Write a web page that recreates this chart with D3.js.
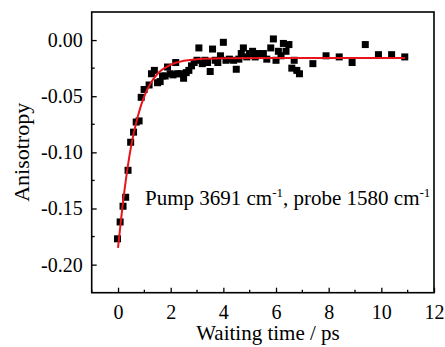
<!DOCTYPE html>
<html><head><meta charset="utf-8">
<script src="https://cdn.jsdelivr.net/npm/d3@7"></script>
<style>body{margin:0;background:#fff}svg{display:block}</style>
</head><body>
<svg id="c" width="445" height="347"></svg>
<script>
const timeData = [-0.02,0.08,0.19,0.29,0.38,0.48,0.59,0.69,0.80,0.88,0.99,1.18,1.27,1.38,1.50,1.60,1.69,1.79,1.88,1.98,2.09,2.19,2.26,2.36,2.49,2.59,2.69,2.79,2.89,3.00,3.07,3.20,3.30,3.40,3.50,3.59,3.69,3.79,3.89,4.00,4.10,4.23,4.39,4.49,4.59,4.68,4.76,4.89,4.99,5.11,5.21,5.33,5.52,5.65,5.80,5.90,6.00,6.09,6.19,6.28,6.38,6.49,6.60,6.69,6.79,6.89,7.40,7.90,8.40,8.89,9.39,9.89,10.39,10.89];
const anisoData = [-0.177,-0.162,-0.148,-0.140,-0.116,-0.091,-0.082,-0.073,-0.072,-0.051,-0.044,-0.040,-0.030,-0.027,-0.038,-0.037,-0.032,-0.032,-0.024,-0.030,-0.031,-0.020,-0.030,-0.030,-0.034,-0.029,-0.027,-0.023,-0.020,-0.018,-0.007,-0.021,-0.018,-0.020,-0.028,-0.008,-0.018,-0.020,-0.014,-0.002,-0.018,-0.017,-0.018,-0.026,-0.017,-0.012,-0.007,-0.015,-0.012,-0.010,-0.015,-0.012,-0.012,-0.017,-0.007,0.001,-0.018,-0.010,-0.014,-0.003,-0.010,-0.004,-0.025,-0.018,-0.027,-0.030,-0.021,-0.014,-0.015,-0.020,-0.004,-0.013,-0.013,-0.015];
const fitTime = [0,0.1,0.25,0.5,0.75,1.0,1.25,1.5,2.0,2.5,3.0,4.0,6.0,8.0,10.9];
const fitValue = [-0.185,-0.163,-0.133,-0.094,-0.068,-0.050,-0.038,-0.030,-0.022,-0.0185,-0.017,-0.0163,-0.016,-0.016,-0.016];
const xTicks = [0,2,4,6,8,10,12];
const yTicks = [0.00,-0.05,-0.10,-0.15,-0.20];

const svg = d3.select('#c');
const m = {l:91.7, t:12, r:11, b:54.3};
const W = 445, H = 347;
const x = d3.scaleLinear().domain([-1,12]).range([m.l, W-m.r]);
const y = d3.scaleLinear().domain([-0.225,0.025]).range([H-m.b, m.t]);
const font = "'Liberation Serif','Times New Roman',serif";

// frame
svg.append('rect').attr('x',x(-1)).attr('y',y(0.025)).attr('width',x(12)-x(-1)).attr('height',y(-0.225)-y(0.025))
  .attr('fill','none').attr('stroke','#000').attr('stroke-width',1.6);

// x axis
const xa = svg.append('g').attr('transform',`translate(0,${y(-0.225)})`)
  .call(d3.axisBottom(x).tickValues(xTicks).tickSize(-5).tickPadding(12).tickFormat(d3.format('d')));
xa.select('.domain').remove();
const xMinor = d3.range(-1,12,1).filter(v=>!xTicks.includes(v));
xa.selectAll('.minor').data(xMinor).enter().append('line').attr('class','minor')
  .attr('x1',d=>x(d)).attr('x2',d=>x(d)).attr('y1',0).attr('y2',-3).attr('stroke','#000').attr('stroke-width',1.3);
// y axis
const ya = svg.append('g').attr('transform',`translate(${x(-1)},0)`)
  .call(d3.axisLeft(y).tickValues(yTicks).tickSize(-5).tickPadding(9).tickFormat(d3.format('.2f')));
ya.select('.domain').remove();
const yMinor = [-0.025,-0.075,-0.125,-0.175];
ya.selectAll('.minor').data(yMinor).enter().append('line').attr('class','minor')
  .attr('y1',d=>y(d)).attr('y2',d=>y(d)).attr('x1',0).attr('x2',3).attr('stroke','#000').attr('stroke-width',1.3);
svg.selectAll('.tick line').attr('stroke-width',1.3);
svg.selectAll('.tick text').attr('font-family',font).attr('font-size',20).attr('fill','#000');
ya.selectAll('.tick text').text(d=>d3.format('.2f')(d).replace('−','-'));

// fit line
const pts = fitTime.map((t,i)=>[t,fitValue[i]]);

// points
const data = timeData.map((t,i)=>[t,anisoData[i]]);
const s = 7;
svg.append('g').selectAll('rect').data(data).enter().append('rect')
  .attr('x',d=>x(d[0])-s/2).attr('y',d=>y(d[1])-s/2).attr('width',s).attr('height',s).attr('fill','#000');

svg.append('path').datum(pts).attr('fill','none').attr('stroke','#e8131b').attr('stroke-width',2)
  .attr('d', d3.line().x(d=>x(d[0])).y(d=>y(d[1])).curve(d3.curveMonotoneX));

// labels
svg.append('text').attr('x',268).attr('y',340).attr('text-anchor','middle')
  .attr('font-family',font).attr('font-size',21).text('Waiting time / ps');
svg.append('text').attr('transform',`translate(29,${(y(-0.225)+y(0.025))/2}) rotate(-90)`).attr('text-anchor','middle')
  .attr('font-family',font).attr('font-size',22).text('Anisotropy');

const ann = svg.append('text').attr('x',145).attr('y',205).attr('font-family',font).attr('font-size',21);
ann.append('tspan').text('Pump 3691 cm');
ann.append('tspan').attr('dy',-8).attr('font-size',13).text('-1');
ann.append('tspan').attr('dy',8).text(', probe 1580 cm');
ann.append('tspan').attr('dy',-8).attr('font-size',13).text('-1');
</script>
</body></html>
